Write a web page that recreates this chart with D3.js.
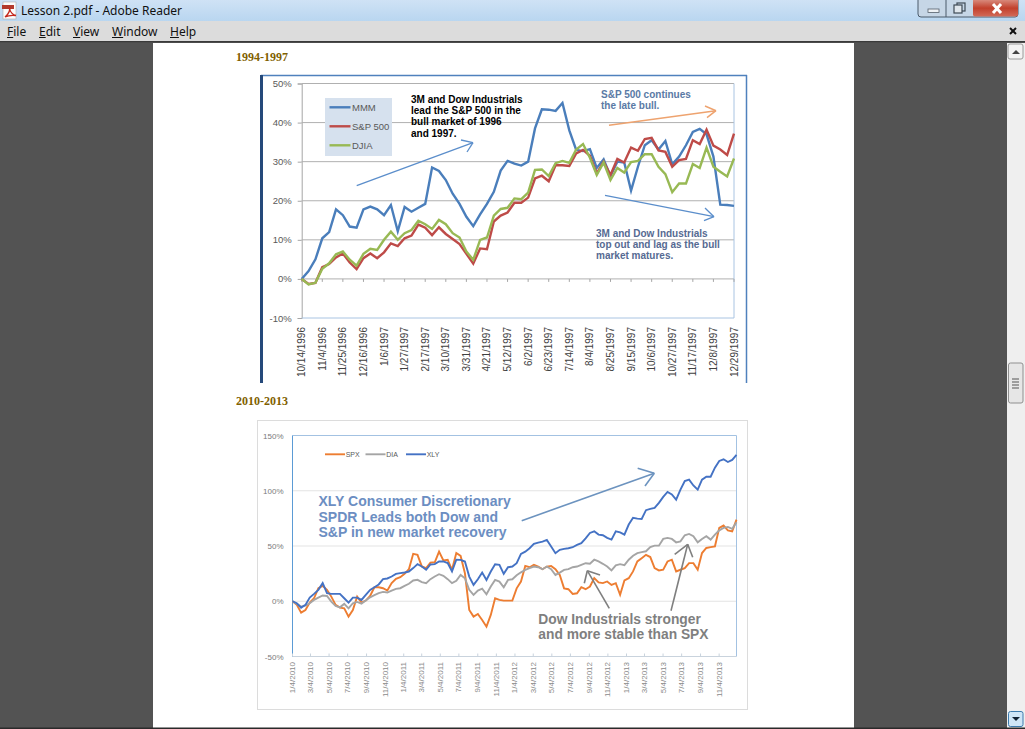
<!DOCTYPE html>
<html>
<head>
<meta charset="utf-8">
<title>Lesson 2.pdf - Adobe Reader</title>
<script src="https://cdn.jsdelivr.net/npm/d3@7/dist/d3.min.js"></script>
<style>
  html, body { margin: 0; padding: 0; background: #535353; overflow: hidden; }
  svg { display: block; }
  text { font-family: "Liberation Sans", Arial, sans-serif; }
  .ui { font-family: "Noto Sans", "Open Sans", sans-serif; font-size: 12px; fill: #111; }
  .note { font-weight: bold; }
</style>
</head>
<body>
<div id="chart"></div>
<script>
// top chart, weekly, % change
let weekLabels = ['10/14/1996', '11/4/1996', '11/25/1996', '12/16/1996', '1/6/1997', '1/27/1997', '2/17/1997', '3/10/1997', '3/31/1997', '4/21/1997', '5/12/1997', '6/2/1997', '6/23/1997', '7/14/1997', '8/4/1997', '8/25/1997', '9/15/1997', '10/6/1997', '10/27/1997', '11/17/1997', '12/8/1997', '12/29/1997']
let mmm = [0, 2, 5, 10.4, 12, 17.8, 16.3, 13.4, 13.1, 17.8, 18.5, 17.8, 16.3, 18.9, 12.2, 18.4, 17.2, 18.2, 19.2, 28.5, 27.6, 25.3, 21.8, 19.2, 15.9, 13.5, 16.5, 19.2, 22.3, 27.7, 30.2, 29.5, 29, 30, 38.5, 43.4, 43.3, 43, 45, 38, 33, 32.7, 33.2, 28.4, 30.6, 26.3, 30, 29.8, 22.6, 28.7, 34.2, 35.5, 33.1, 35.3, 29.3, 31.3, 34.2, 37.6, 38.4, 37, 31.3, 19, 18.9, 18.7]
let sp500 = [0, -1.3, -1, 3, 3.8, 5.5, 6.5, 4.2, 2.5, 5.3, 6.5, 5.3, 6.8, 9.1, 8.4, 10.4, 11.1, 13.9, 13.1, 11.2, 13.2, 11.5, 10.2, 8.9, 6.4, 3.9, 7.8, 7.6, 14.7, 16.2, 17, 19.5, 19.5, 20.8, 25.7, 26.4, 25, 29.1, 29.1, 28.9, 32.1, 33, 31.5, 27, 30, 26.6, 30.7, 29.8, 33.6, 32.8, 35.8, 36.1, 32.9, 32.5, 28.7, 30.4, 30.7, 35.5, 34.5, 38.2, 34.1, 33.1, 31.7, 37.2]
let djia = [0, -1.4, -1, 2.6, 4, 6.3, 7, 4.9, 3.4, 6.4, 7.7, 7.4, 10, 12.1, 10, 11.7, 12.5, 14.9, 14, 12.8, 15.1, 14, 11.7, 10.6, 7, 4.9, 10, 10.6, 16.2, 17.9, 18.2, 20.6, 20.4, 22.1, 27.9, 28, 26.3, 29.6, 30.2, 29.7, 33.1, 34.5, 31, 26.6, 29.8, 25.3, 28.4, 27.2, 29.9, 30.2, 31.9, 31.9, 28.7, 26.8, 22.2, 24.4, 24.4, 29.4, 28.4, 33.6, 28.7, 27.4, 26.2, 30.8]

// bottom chart, sampled about every two weeks
let monthLabels = ['1/4/2010', '3/4/2010', '5/4/2010', '7/4/2010', '9/4/2010', '11/4/2010', '1/4/2011', '3/4/2011', '5/4/2011', '7/4/2011', '9/4/2011', '11/4/2011', '1/4/2012', '3/4/2012', '5/4/2012', '7/4/2012', '9/4/2012', '11/4/2012', '1/4/2013', '3/4/2013', '5/4/2013', '7/4/2013', '9/4/2013', '11/4/2013']
let spx = [0, -3.3, -10.3, -7.9, -1.2, 2.7, 11.8, 13.9, 10.3, 4.2, -3.3, -5.8, -6.4, -13.9, -7.9, 4.2, -1.2, 0.6, 4.8, 12.7, 12.7, 11.8, 9.7, 16.4, 20.3, 21.8, 24.8, 29, 42.9, 42, 31.5, 30, 35, 35.3, 45, 37, 37.5, 28.5, 43.6, 41, 25.3, -7.9, -13.9, -11.5, -17, -23, -12.4, 2.7, 1.2, 0.6, 0.6, 0.6, 11.7, 17.8, 32, 30.8, 32.9, 31.4, 29, 31.4, 32, 29, 23.8, 11.7, 10.9, 6.6, 7.2, 12.7, 10.9, 13.3, 20.9, 17, 16.4, 17.9, 14.8, 16.4, 5.8, 18.8, 20.9, 27, 36, 39, 42, 40, 30, 27.9, 28.5, 36, 37.6, 27, 28.5, 30, 34.5, 34.5, 28.5, 43.6, 48.2, 49, 49.7, 66.4, 68.5, 64.2, 63.3, 73.9]
let dia = [0, -2.4, -4.8, -3.9, -1.8, 1.2, 3.3, 5.2, 4.8, -0.3, -4.2, -5.5, -2.4, -6.4, -1.8, -0.6, -2.1, 0.6, 3.6, 5.5, 7.3, 8.5, 7.9, 9.7, 11.2, 11.8, 13.9, 15.8, 18.8, 19.4, 17.3, 16.4, 20, 22.4, 24.5, 23, 20, 16.4, 18.5, 23.8, 20.8, 10.3, 5.7, 9.6, 11.4, 6.3, 13.3, 19.3, 17.8, 12.7, 19.3, 19.9, 23.5, 26.2, 28.4, 29.9, 31.4, 30.8, 29, 31.4, 29, 23.8, 25.9, 28.4, 29, 30.8, 31.4, 32.9, 34.4, 33.9, 37.6, 36, 33.9, 31.5, 27.9, 32.4, 33.6, 32.7, 37.6, 41.2, 43.6, 44.5, 45.2, 49, 50.3, 50.3, 56.4, 57.3, 56.4, 53.3, 54.2, 59.7, 60.9, 58.8, 53.3, 56.4, 58.8, 55.8, 60.3, 64.2, 66.4, 67.3, 65.5, 71.5]
let xly = [0, -1.8, -5.8, -3.3, 3.3, 6.7, 10.3, 16.4, 7.3, 6.7, 6.7, 6.7, 2.7, -1.2, 3.3, 3.3, 1.2, 5.8, 10.3, 12.7, 15.2, 20, 20.6, 22.4, 24.8, 25.5, 26, 26.9, 30, 33.6, 31.5, 28.5, 33.3, 33.6, 36, 36, 34.5, 27, 37.6, 37.4, 35.9, 22.3, 14.8, 19.9, 26, 19.3, 26.9, 33.5, 32.9, 24.8, 30.8, 31.4, 34.4, 42.9, 44.9, 48, 51.9, 53.1, 54, 55.5, 49.5, 43.5, 46.5, 47.4, 48, 48.9, 51, 52.5, 57, 61.8, 63.3, 60.3, 59.7, 57.3, 55.8, 63.3, 62.4, 60.3, 69.4, 75.5, 74.8, 74.5, 82.4, 83.6, 84.5, 89, 94.5, 99, 96.7, 92, 101, 108.8, 110, 104.8, 101, 110, 112.7, 112.7, 120.9, 127, 128.5, 126, 127.9, 132.4]

let topTicks = [-10, 0, 10, 20, 30, 40, 50]
let bottomTicks = [-50, 0, 50, 100, 150]

let width = 1025
let height = 729

let svg = d3
  .select('#chart')
  .append('svg')
  .attr('width', width)
  .attr('height', height)

function rect(x, y, w, h, fill) {
  return svg.append('rect').attr('x', x).attr('y', y).attr('width', w).attr('height', h).attr('fill', fill)
}

function seg(g, x1, y1, x2, y2, color, sw) {
  g.append('line')
    .attr('x1', x1).attr('y1', y1).attr('x2', x2).attr('y2', y2)
    .attr('stroke', color).attr('stroke-width', sw)
}

function notes(lines, x, y, dy, size, color) {
  lines.forEach((t, i) => {
    svg.append('text')
      .attr('class', 'note')
      .attr('x', x)
      .attr('y', y + i * dy)
      .attr('font-size', size)
      .attr('fill', color)
      .text(t)
  })
}

function arrow(x1, y1, x2, y2, b1, b2, color, sw) {
  let g = svg.append('g')
  seg(g, x1, y1, x2, y2, color, sw)
  seg(g, b1[0], b1[1], x2, y2, color, sw)
  seg(g, b2[0], b2[1], x2, y2, color, sw)
}

// ---- window chrome ----
let defs = svg.append('defs')
let grad = defs.append('linearGradient').attr('id', 'titlebar').attr('x1', 0).attr('x2', 0).attr('y1', 0).attr('y2', 1)
grad.append('stop').attr('offset', 0).attr('stop-color', '#cfe2f5')
grad.append('stop').attr('offset', 1).attr('stop-color', '#b9d6f0')
let redGrad = defs.append('linearGradient').attr('id', 'closebtn').attr('x1', 0).attr('x2', 0).attr('y1', 0).attr('y2', 1)
redGrad.append('stop').attr('offset', 0).attr('stop-color', '#dd9a8e')
redGrad.append('stop').attr('offset', 0.55).attr('stop-color', '#c2402c')
redGrad.append('stop').attr('offset', 1).attr('stop-color', '#d26a58')

rect(0, 0, width, 21, 'url(#titlebar)')
rect(0, 21, width, 20, '#dcdcdc')
rect(0, 41, width, 1.5, '#3a3a3a')
rect(0, 42.5, width, height, '#535353')

// pdf icon
rect(3, 2, 13, 17, '#fbfbfb').attr('stroke', '#aaa').attr('stroke-width', 0.6)
rect(2, 5, 12, 4, '#b3392c')
svg.append('path').attr('d', 'M5 17 C9 14 10 10 9.5 8 C10 12 13 15 16 15.5 C12 15 8 15.5 5 17 Z').attr('stroke', '#c4281c').attr('stroke-width', 1.3).attr('fill', 'none')

svg.append('text').attr('class', 'ui').attr('x', 21).attr('y', 15).attr('fill', '#111').text('Lesson 2.pdf - Adobe Reader')

let menus = [['File', 7], ['Edit', 39], ['View', 73], ['Window', 112], ['Help', 170]]
menus.forEach(m => {
  svg.append('text').attr('class', 'ui').attr('x', m[1]).attr('y', 36).text(m[0])
    .each(function () {
      let w = this.getSubStringLength(0, 1)
      seg(svg, m[1], 37.5, m[1] + w, 37.5, '#111', 1)
    })
})

// window buttons
let btn = svg.append('g')
btn.append('rect').attr('x', 918).attr('y', -3).attr('width', 100).attr('height', 20).attr('rx', 3)
  .attr('fill', '#c6d6e6').attr('stroke', '#4a5a6a')
btn.append('rect').attr('x', 973).attr('y', -2).attr('width', 45).attr('height', 18.5).attr('rx', 2).attr('fill', 'url(#closebtn)')
seg(btn, 946, 0, 946, 17, '#4a5a6a', 1)
btn.append('rect').attr('x', 928).attr('y', 9).attr('width', 11).attr('height', 3.5).attr('fill', '#eef2f6').attr('stroke', '#55606c').attr('stroke-width', 0.8)
btn.append('rect').attr('x', 957).attr('y', 3).attr('width', 8).attr('height', 8).attr('fill', 'none').attr('stroke', '#3f4a55').attr('stroke-width', 1.2)
btn.append('rect').attr('x', 954).attr('y', 5).attr('width', 8).attr('height', 8).attr('fill', '#dfe6ec').attr('stroke', '#3f4a55').attr('stroke-width', 1.2)
seg(btn, 993, 4, 1001, 13, '#fff', 3)
seg(btn, 1001, 4, 993, 13, '#fff', 3)
seg(btn, 1010, 28, 1016, 34, '#111', 2)
seg(btn, 1016, 28, 1010, 34, '#111', 2)

// page and scrollbar
rect(153, 43, 701, height - 43, '#fff')
rect(1007, 43, 18, height - 43, '#efefef')
rect(1008, 44, 15, 15, '#f3f3f3').attr('stroke', '#9a9a9a').attr('rx', 2)
svg.append('path').attr('d', 'M1012 54 L1016 50 L1020 54 Z').attr('fill', '#444')
rect(1008.5, 363, 14.5, 40, '#e6e6e6').attr('stroke', '#8f8f8f').attr('rx', 2)
;[379, 382, 385, 388].forEach(y => seg(svg, 1012, y, 1019, y, '#555', 1))
rect(1008.5, 711.5, 14.5, 15, '#cfe6f7').attr('stroke', '#3d7bad').attr('rx', 2)
svg.append('path').attr('d', 'M1012 717 L1016 721 L1020 717 Z').attr('fill', '#123')
rect(0, 727.5, width, 1.5, '#2a2a2a')

// section headings
;[['1994-1997', 61], ['2010-2013', 405]].forEach(h => {
  svg.append('text')
    .attr('x', 236).attr('y', h[1])
    .attr('font-size', 12).attr('font-weight', 'bold')
    .attr('fill', '#7f6000')
    .style('font-family', '"Liberation Serif", serif')
    .text(h[0])
})

// ---- top chart ----
let frame = { left: 261, right: 747, top: 75, bottom: 383 }
rect(frame.left, frame.top, frame.right - frame.left, frame.bottom - frame.top, '#fff')
let fg = svg.append('g')
seg(fg, frame.left, frame.top + 0.5, frame.right, frame.top + 0.5, '#4f81bd', 1.5)
seg(fg, frame.left + 0.5, frame.top, frame.left + 0.5, frame.bottom, '#25497a', 3)
seg(fg, frame.right - 0.5, frame.top, frame.right - 0.5, frame.bottom, '#4f81bd', 1.5)

let topArea = { left: 301.7, right: 734, top: 83.5, bottom: 318 }
let yTop = d3.scaleLinear().domain([-10, 50]).range([topArea.bottom, topArea.top])
let xTop = d3.scaleLinear().domain([0, mmm.length - 1]).range([topArea.left, topArea.right])

let topAxisY = svg.append('g')
  .attr('transform', `translate(${topArea.left},0)`)
  .call(d3.axisLeft(yTop).tickValues(topTicks).tickFormat(d => d + '%').tickSize(4))
topAxisY.select('.domain').attr('stroke', '#a6a6a6')
topAxisY.selectAll('line').attr('stroke', '#a6a6a6')
topAxisY.selectAll('text').attr('font-size', 9.5).attr('fill', '#595959').attr('font-family', '"Liberation Sans"').attr('x', -10)

svg.append('g').selectAll('line')
  .data(topTicks.filter(d => d > -10))
  .enter().append('line')
  .attr('x1', topArea.left).attr('x2', topArea.right)
  .attr('y1', d => yTop(d)).attr('y2', d => yTop(d))
  .attr('stroke', '#b0b0b0')

// plot border
seg(svg, topArea.right, topArea.top, topArea.right, topArea.bottom, '#a9c4e2', 1)
seg(svg, topArea.left, topArea.bottom, topArea.right, topArea.bottom, '#a9c4e2', 1)

// ticks sit on the zero line, labels at the bottom
let topTickIdx = d3.range(0, mmm.length, 3)
svg.append('g').selectAll('line')
  .data(topTickIdx)
  .enter().append('line')
  .attr('x1', d => xTop(d)).attr('x2', d => xTop(d))
  .attr('y1', yTop(0)).attr('y2', yTop(0) + 3)
  .attr('stroke', '#a6a6a6')

svg.append('g').selectAll('text')
  .data(topTickIdx)
  .enter().append('text')
  .attr('transform', d => `translate(${xTop(d) + 3.5},327) rotate(-90)`)
  .attr('text-anchor', 'end')
  .attr('font-size', 10)
  .attr('fill', '#404040')
  .text((d, i) => weekLabels[i])

let lineTop = d3.line().x((d, i) => xTop(i)).y(d => yTop(d))
let topSeries = [['MMM', mmm, '#4a7ebb'], ['S&P 500', sp500, '#be4b48'], ['DJIA', djia, '#98b954']]
topSeries.forEach(s => {
  svg.append('path')
    .datum(s[1])
    .attr('d', lineTop)
    .attr('fill', 'none')
    .attr('stroke', s[2])
    .attr('stroke-width', 2.4)
})

// legend
rect(325, 98, 67, 58, '#d6e1ee')
topSeries.forEach((s, i) => {
  let y = 107.3 + i * 19
  seg(svg, 329.5, y, 350.5, y, s[2], 2.4)
  svg.append('text').attr('x', 352).attr('y', y + 3.5).attr('font-size', 9.5).attr('fill', '#595959').text(s[0])
})

notes(['3M and Dow Industrials', 'lead the S&P 500 in the', 'bull market of 1996', 'and 1997.'], 411, 103, 11.2, 10, '#000')
notes(['S&P 500 continues', 'the late bull.'], 601, 98, 11, 10, '#5a7aa5')
notes(['3M and Dow Industrials', 'top out and lag as the bull', 'market matures.'], 596, 236.5, 11.2, 10, '#566a92')

arrow(356.7, 185.7, 473, 142.7, [461, 140], [467, 152], '#5b8ecb', 1.3)
arrow(609, 125.3, 716, 110.7, [705, 106], [707, 117.7], '#eea36f', 1.5)
arrow(605, 195.3, 714, 216.7, [705, 208], [704, 220.7], '#5b8ecb', 1.3)

// ---- bottom chart ----
rect(257.5, 420.5, 490, 289, '#fff').attr('stroke', '#dcdcdc')

let botArea = { left: 292.5, right: 736.5, top: 435.5, bottom: 656.5 }
let parseDate = d3.timeParse('%-m/%-d/%Y')
let startDate = parseDate(monthLabels[0])
let endDate = parseDate('12/31/2013')
let xBot = d3.scaleTime().domain([startDate, endDate]).range([botArea.left, botArea.right])
let yBot = d3.scaleLinear().domain([-50, 150]).range([botArea.bottom, botArea.top])

svg.append('g').selectAll('line')
  .data(bottomTicks.filter(d => d > -50 && d < 150))
  .enter().append('line')
  .attr('x1', botArea.left).attr('x2', botArea.right)
  .attr('y1', d => yBot(d)).attr('y2', d => yBot(d))
  .attr('stroke', '#e3e3e3')

svg.append('g').selectAll('text')
  .data(bottomTicks)
  .enter().append('text')
  .attr('x', 283.5)
  .attr('y', d => yBot(d) + 3)
  .attr('text-anchor', 'end')
  .attr('font-size', 8)
  .attr('fill', '#7b7b7b')
  .text(d => d + '%')

seg(svg, botArea.left, botArea.top, botArea.right, botArea.top, '#a3c2e2', 1)
seg(svg, botArea.right, botArea.top, botArea.right, botArea.bottom, '#a3c2e2', 1)
seg(svg, botArea.left, botArea.bottom, botArea.right, botArea.bottom, '#c9d3dd', 1)
seg(svg, botArea.left, botArea.top, botArea.left, botArea.bottom, '#5b9bd5', 1)

let botDates = monthLabels.map(parseDate)
svg.append('g').selectAll('line')
  .data(botDates)
  .enter().append('line')
  .attr('x1', d => xBot(d)).attr('x2', d => xBot(d))
  .attr('y1', botArea.bottom).attr('y2', botArea.bottom - 3)
  .attr('stroke', '#c9d3dd')

svg.append('g').selectAll('text')
  .data(botDates)
  .enter().append('text')
  .attr('transform', d => `translate(${xBot(d) + 2.5},662) rotate(-90)`)
  .attr('text-anchor', 'end')
  .attr('font-size', 8)
  .attr('fill', '#8a8a8a')
  .text((d, i) => monthLabels[i])

// samples are evenly spread across the date range
let lineBot = d3.line()
  .x((d, i, a) => xBot(new Date(+startDate + (endDate - startDate) * i / (a.length - 1))))
  .y(d => yBot(d))
let botSeries = [['SPX', spx, '#ed7d31'], ['DIA', dia, '#a5a5a5'], ['XLY', xly, '#4472c4']]
botSeries.forEach(s => {
  svg.append('path')
    .datum(s[1])
    .attr('d', lineBot)
    .attr('fill', 'none')
    .attr('stroke', s[2])
    .attr('stroke-width', 1.9)
})

botSeries.forEach((s, i) => {
  let x = 325 + i * 40.5
  seg(svg, x, 454.3, x + 20, 454.3, s[2], 1.9)
  svg.append('text').attr('x', x + 20.7).attr('y', 456.8).attr('font-size', 7).attr('fill', '#595959').text(s[0])
})

notes(['XLY Consumer Discretionary', 'SPDR Leads both Dow and', 'S&P in new market recovery'], 318.5, 506, 15.5, 14, '#6c8ec2')
notes(['Dow Industrials stronger', 'and more stable than SPX'], 538.3, 624, 15, 13.8, '#7f7f7f')

arrow(521.7, 520.7, 654.3, 473.3, [637.7, 468.3], [645, 486], '#6c93bf', 1.6)
arrow(609.3, 608.3, 587.3, 570.7, [600, 575], [584.3, 583.3], '#7f7f7f', 1.6)
arrow(671, 610.7, 687.7, 544.3, [674.7, 554.3], [692.7, 557.3], '#7f7f7f', 1.6)
</script>
</body>
</html>
